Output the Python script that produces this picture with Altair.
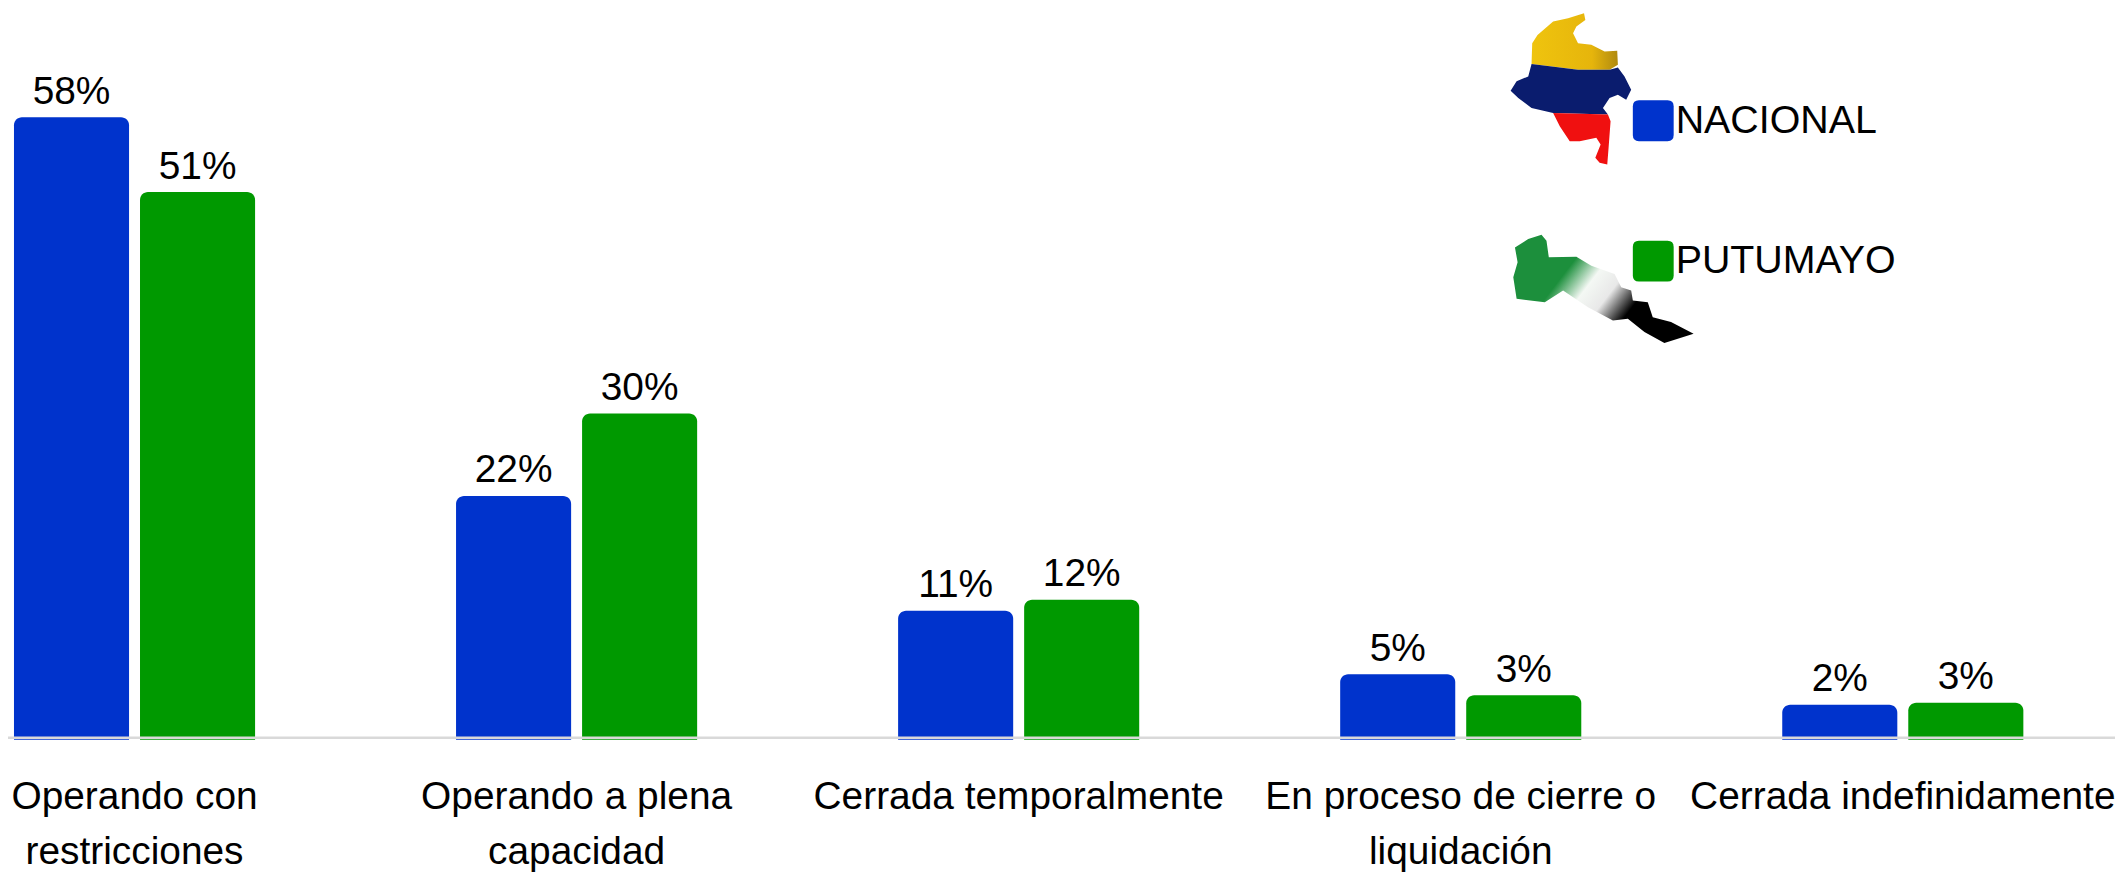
import base64
import altair as alt
import pandas as pd

categories = ["Operando con|restricciones", "Operando a plena|capacidad",
              "Cerrada temporalmente", "En proceso de cierre o|liquidación",
              "Cerrada indefinidamente"]
nacional = [58.1, 22.2, 11.3, 5.3, 2.4]
putumayo = [51.0, 30.0, 12.35, 3.3, 2.6]
series = ["NACIONAL", "PUTUMAYO"]
colors = ["#0033cc", "#009900"]
FONT = "Liberation Sans, Arial"
FS = 39
Y_MIN = -0.93
Y_MAX = 68.3
BASE = -0.74

rows = []
for c, a, b in zip(categories, nacional, putumayo):
    rows.append({"cat": c, "serie": series[0], "v": a, "low": Y_MIN})
    rows.append({"cat": c, "serie": series[1], "v": b, "low": Y_MIN})
df = pd.DataFrame(rows)

svg = """<svg xmlns='http://www.w3.org/2000/svg' viewBox='0 24 1350 1056' width='450' height='352'>
<defs><linearGradient id='g' gradientUnits='userSpaceOnUse' x1='280' y1='790' x2='490' y2='950'>
<stop offset='0' stop-color='#1c8f3c'/><stop offset='0.3' stop-color='#f4f8f4'/><stop offset='0.55' stop-color='#e8e8e8'/><stop offset='0.85' stop-color='#000'/><stop offset='1' stop-color='#000'/></linearGradient>
<linearGradient id='y' x1='0' y1='0' x2='1' y2='0'><stop offset='0' stop-color='#efc40e'/><stop offset='0.7' stop-color='#e6b50c'/><stop offset='1' stop-color='#b08a10'/></linearGradient></defs>
<polygon fill='url(#y)' points='318,35 322,55 295,75 285,95 300,125 340,130 380,150 418,148 420,190 395,205 300,205 160,188 162,125 178,100 225,60 270,50'/>
<polygon fill='#0a1c6e' points='160,188 300,205 395,205 420,198 440,225 460,265 445,295 420,280 395,290 375,320 390,340 225,335 160,320 120,290 97,268 115,240 150,225'/>
<polygon fill='#f01010' points='225,335 390,340 398,360 392,440 388,490 365,485 352,470 368,430 355,410 305,420 275,420 245,375'/>
<polygon fill='url(#g)' points='190,702 205,720 212,770 295,768 340,795 410,820 430,860 460,870 465,900 510,905 525,950 580,965 648,1000 560,1028 500,995 450,955 405,960 330,920 255,870 200,905 115,895 105,830 118,785 110,740 150,715'/>
</svg>"""
uri = "data:image/svg+xml;base64," + base64.b64encode(svg.encode()).decode()

x = alt.X("cat:N", sort=categories, title=None,
          scale=alt.Scale(range=[6, 2023], paddingInner=0.4546, paddingOuter=0),
          axis=alt.Axis(domain=False, ticks=False, grid=False, labelAngle=0,
                        labelExpr="split(datum.label, '|')",
                        labelFont=FONT, labelFontSize=FS, labelColor="#000000",
                        labelLineHeight=55, labelLimit=0, labelOverlap=False,
                        labelBound=False, labelFlush=False, labelPadding=38,
                        labelBaseline="top"))
y = alt.Y("v:Q", title=None, axis=None, scale=alt.Scale(domain=[Y_MIN, Y_MAX], nice=False, zero=False))
xo = alt.XOffset("serie:N", sort=series,
                 scale=alt.Scale(paddingInner=0.087, paddingOuter=0))

bars = alt.Chart(df).mark_bar(cornerRadiusTopLeft=8, cornerRadiusTopRight=8).encode(
    x=x, xOffset=xo, y=y, y2=alt.Y2("low:Q"),
    color=alt.Color("serie:N", sort=series,
                    scale=alt.Scale(domain=series, range=colors),
                    legend=alt.Legend(
                        title=None, orient="none", legendX=1631, legendY=91,
                        symbolType="M-0.7,-1H0.7Q1,-1 1,-0.7V0.7Q1,1 0.7,1H-0.7Q-1,1 -1,0.7V-0.7Q-1,-1 -0.7,-1Z",
                        symbolSize=1681, symbolStrokeWidth=0, symbolOpacity=1,
                        labelFont=FONT, labelFontSize=39.5, labelColor="#000000",
                        labelOffset=2, rowPadding=100, labelLimit=0)),
)

labels = alt.Chart(df).transform_calculate(t="round(datum.v) + '%'").mark_text(
    font=FONT, fontSize=FS, color="#000000", baseline="alphabetic", dy=-13.5
).encode(x=x, xOffset=xo, y=y, text="t:N")

base_line = alt.Chart(alt.Data(values=[{"v": BASE}])).mark_rule(color="#d9d9d9", strokeWidth=2.5).encode(
    y=alt.Y("v:Q", title=None, axis=None, scale=alt.Scale(domain=[Y_MIN, Y_MAX], nice=False, zero=False)),
    x=alt.value(0), x2=alt.value(2115))

maps = alt.Chart(alt.Data(values=[{"n": 1}])).mark_image(
    url=uri, width=450, height=352, align="left", baseline="top"
).encode(x=alt.value(1476), y=alt.value(0))

chart = alt.layer(bars, base_line, labels, maps).properties(
    width=2115, height=733,
    padding={"left": 0, "top": 0, "right": 0, "bottom": 134},
    autosize=alt.AutoSizeParams(type="none"),
    background="#ffffff",
).configure_view(stroke=None)

chart.save("out.html", embed_options={"renderer": "svg", "actions": False})
